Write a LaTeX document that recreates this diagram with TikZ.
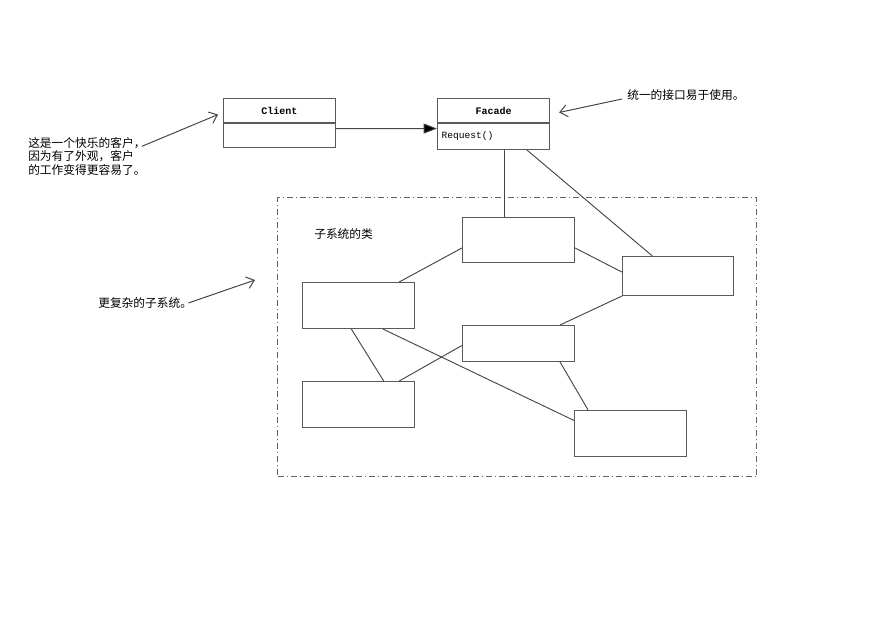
\documentclass[tikz,border=0pt]{standalone}
\usepackage{fontspec}
\usepackage{tikz}
\usetikzlibrary{arrows.meta,positioning,calc}
\newfontfamily\cjk{Noto Sans CJK SC}
\newfontfamily\monofont{Liberation Mono}
\definecolor{boxgray}{RGB}{90, 90, 90}
\definecolor{linegray}{RGB}{70, 70, 70}
\definecolor{framegray}{RGB}{100, 100, 100}
\tikzset{
    classhead/.style={draw=boxgray, line width=0.75pt, minimum width=84pt, minimum height=18pt, inner sep=0pt, font=\monofont\bfseries\fontsize{7.5}{9}\selectfont},
    classbody/.style={draw=boxgray, line width=0.75pt, text width=78pt, inner sep=3pt, align=left, minimum height=18pt, font=\monofont\fontsize{7.2}{9}\selectfont},
    subbox/.style={draw=boxgray, line width=0.75pt, minimum width=84pt, inner sep=0pt, anchor=north west},
    link/.style={draw=linegray, line width=0.7pt},
    note/.style={inner sep=0pt, align=left, font=\cjk\fontsize{8.8}{10.1}\selectfont},
    notearrow/.style={draw=linegray, line width=0.75pt, -{Straight Barb[length=5.5pt,width=9pt]}}
}

\begin{document}
\begin{tikzpicture}[x=0.75pt, y=-0.75pt]
    \useasboundingbox (0,0) rectangle (883,624);
    % client and facade
    \node[classhead, anchor=north west] (clienthead) at (223,98) {Client};
    \node[classbody, below=0pt of clienthead] (clientbody) {};
    \node[classhead, anchor=north west] (facadehead) at (437,98) {Facade};
    \node[classbody, below=0pt of facadehead, minimum height=19.5pt] (facadebody) {Request()};
    \draw[link, -{Triangle[length=10pt,width=7.5pt,fill=black]}] (clientbody.7) -- (facadebody.172);

    % subsystem frame
    \node[draw=framegray, line width=0.8pt, dash pattern=on 4.5pt off 2.25pt on 0.75pt off 2.25pt,
          minimum width=359.25pt, minimum height=209.25pt, inner sep=0pt, anchor=north west] (subsys) at (277,197) {};
    \node[note, anchor=west] (sublabel) at (314,234) {子系统的类};

    \node[subbox, minimum height=33.75pt] (sub1) at (462,217) {};
    \node[subbox, minimum width=83.25pt, minimum height=29.25pt] (sub2) at (622,256) {};
    \node[subbox, minimum height=34.5pt] (sub3) at (302,282) {};
    \node[subbox, minimum height=27pt] (sub4) at (462,325) {};
    \node[subbox, minimum height=34.5pt] (sub5) at (302,381) {};
    \node[subbox, minimum height=34.5pt] (sub6) at (574,410) {};

    \draw[link] (facadebody.308) -- (facadebody.308 |- sub1.north);
    \draw[link] (facadebody.338) -- (sub2.142);
    \draw[link] (sub1.188) -- (sub3.30);
    \draw[link] (sub1.352) -- (sub2.176);
    \draw[link] (sub2.south west) -- (sub4.24);
    \draw[link] (sub3.253) -- (sub5.43);
    \draw[link] (sub3.316) -- (sub6.167);
    \draw[link] (sub4.182) -- (sub5.30);
    \draw[link] (sub4.336) -- (sub6.151);

    % notes
    \node[note, anchor=north west] (note1) at (28,137) {这是一个快乐的客户，\\因为有了外观，客户\\的工作变得更容易了。};
    \node[note, anchor=west] (note2) at (627,95) {统一的接口易于使用。};
    \node[note, anchor=west] (note3) at (98,303) {更复杂的子系统。};
    \coordinate (subtip) at (255,280);

    \draw[notearrow, shorten >=4pt] ([xshift=-3pt,yshift=-7pt]note1.north east) -- (clienthead.182);
    \draw[notearrow, shorten >=7pt] ([xshift=-3.75pt,yshift=-3pt]note2.west) -- (facadehead.356);
    \draw[notearrow] ([xshift=-3pt]note3.east) -- (subtip);
\end{tikzpicture}
\end{document}
